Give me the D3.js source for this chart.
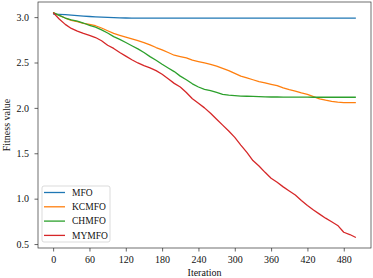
<!DOCTYPE html>
<html>
<head>
<meta charset="utf-8">
<script src="https://cdn.jsdelivr.net/npm/d3@7"></script>
<style>
  body { margin: 0; background: #fff; }
  svg { display: block; font-family: "Liberation Serif", "Times New Roman", serif; }
</style>
</head>
<body>
<div id="chart"></div>
<script>
// iterations sampled every 10 steps
let iterations = d3.range(0, 501, 10);

let seriesNames = ["MFO", "KCMFO", "CHMFO", "MYMFO"];
let seriesColors = ["#1f77b4", "#ff7f0e", "#2ca02c", "#d62728"];

let mfo = [3.033, 3.03, 3.027, 3.022, 3.017, 3.012, 3.007, 3.003, 3.0, 2.997,
  2.994, 2.992, 2.99, 2.989, 2.989, 2.989, 2.989, 2.989, 2.989, 2.989,
  2.989, 2.989, 2.989, 2.989, 2.989, 2.989, 2.989, 2.989, 2.989, 2.989,
  2.989, 2.989, 2.989, 2.989, 2.989, 2.989, 2.989, 2.989, 2.989, 2.989,
  2.989, 2.989, 2.989, 2.989, 2.989, 2.989, 2.989, 2.989, 2.989, 2.989, 2.989];

let kcmfo = [3.05, 3.02, 2.99, 2.965, 2.95, 2.93, 2.92, 2.905, 2.88, 2.85,
  2.82, 2.80, 2.78, 2.76, 2.74, 2.72, 2.695, 2.665, 2.64, 2.61,
  2.58, 2.565, 2.55, 2.525, 2.51, 2.495, 2.48, 2.46, 2.435, 2.41,
  2.38, 2.35, 2.33, 2.31, 2.29, 2.275, 2.26, 2.245, 2.22, 2.20,
  2.185, 2.165, 2.15, 2.125, 2.10, 2.085, 2.072, 2.063, 2.059, 2.058, 2.057];

let chmfo = [3.05, 3.02, 2.99, 2.97, 2.955, 2.935, 2.91, 2.89, 2.86, 2.825,
  2.785, 2.755, 2.72, 2.685, 2.65, 2.61, 2.565, 2.525, 2.48, 2.44,
  2.40, 2.35, 2.31, 2.265, 2.23, 2.205, 2.19, 2.17, 2.15, 2.14,
  2.135, 2.13, 2.128, 2.126, 2.124, 2.122, 2.12, 2.12, 2.119, 2.119,
  2.118, 2.118, 2.118, 2.117, 2.117, 2.117, 2.117, 2.117, 2.117, 2.117, 2.117];

let mymfo = [3.05, 2.98, 2.92, 2.875, 2.845, 2.82, 2.80, 2.775, 2.74, 2.69,
  2.655, 2.61, 2.57, 2.53, 2.495, 2.465, 2.44, 2.41, 2.37, 2.32,
  2.27, 2.23, 2.17, 2.10, 2.05, 2.00, 1.94, 1.875, 1.81, 1.745,
  1.675, 1.59, 1.51, 1.42, 1.36, 1.29, 1.225, 1.18, 1.13, 1.085,
  1.04, 0.98, 0.925, 0.875, 0.83, 0.785, 0.745, 0.705, 0.63, 0.605, 0.572];

let xTicks = [0, 60, 120, 180, 240, 300, 360, 420, 480];
let yTicks = [0.5, 1.0, 1.5, 2.0, 2.5, 3.0];

let w = 373;
let h = 278;
let plotLeft = 38, plotRight = 371, plotTop = 2, plotBottom = 248;

let svg = d3.select("#chart")
  .append("svg")
  .attr("width", w)
  .attr("height", h);

let x = d3.scaleLinear().domain([-25, 525]).range([plotLeft, plotRight]);
let y = d3.scaleLinear().domain([0.4565, 3.1665]).range([plotBottom, plotTop]);

let allSeries = [mfo, kcmfo, chmfo, mymfo];

let line = d3.line()
  .x((d, i) => x(iterations[i]))
  .y(d => y(d));

svg.selectAll(".series")
  .data(allSeries)
  .enter()
  .append("path")
  .attr("class", "series")
  .attr("d", d => line(d))
  .attr("fill", "none")
  .attr("stroke", (d, i) => seriesColors[i])
  .attr("stroke-width", 1.3)
  .attr("stroke-linejoin", "round");

// axes
let xAxis = d3.axisBottom(x).tickValues(xTicks).tickSize(3.5).tickPadding(4.7);
let yAxis = d3.axisLeft(y).tickValues(yTicks).tickSize(3.5).tickPadding(5.5).tickFormat(d3.format(".1f"));

let gx = svg.append("g")
  .attr("transform", `translate(0,${plotBottom})`)
  .call(xAxis);
let gy = svg.append("g")
  .attr("transform", `translate(${plotLeft},0)`)
  .call(yAxis);

[gx, gy].forEach(g => {
  g.select(".domain").remove();
  g.selectAll("line").attr("stroke", "#222").attr("stroke-width", 0.7);
  g.selectAll("text")
    .attr("fill", "#111")
    .style("font-size", "10px")
    .style("font-family", "Liberation Serif, serif");
});

// frame
svg.append("rect")
  .attr("x", plotLeft)
  .attr("y", plotTop)
  .attr("width", plotRight - plotLeft)
  .attr("height", plotBottom - plotTop)
  .attr("fill", "none")
  .attr("stroke", "#333")
  .attr("stroke-width", 0.7);

// axis labels
svg.append("text")
  .text("Iteration")
  .attr("x", (plotLeft + plotRight) / 2)
  .attr("y", 276)
  .attr("text-anchor", "middle")
  .style("font-size", "10px")
  .attr("fill", "#111");

svg.append("text")
  .text("Fitness value")
  .attr("transform", `translate(9.5,${(plotTop + plotBottom) / 2}) rotate(-90)`)
  .attr("text-anchor", "middle")
  .style("font-size", "10px")
  .attr("fill", "#111");

// legend
let legend = svg.append("g").attr("transform", "translate(42,186)");
legend.append("rect")
  .attr("width", 68)
  .attr("height", 56)
  .attr("rx", 2)
  .attr("fill", "#fff")
  .attr("fill-opacity", 0.8)
  .attr("stroke", "#ccc")
  .attr("stroke-width", 0.7);

seriesNames.forEach((name, i) => {
  let ly = 6.5 + i * 14.3;
  legend.append("line")
    .attr("x1", 2)
    .attr("x2", 23)
    .attr("y1", ly)
    .attr("y2", ly)
    .attr("stroke", seriesColors[i])
    .attr("stroke-width", 1.3);
  legend.append("text")
    .text(name)
    .attr("x", 30)
    .attr("y", ly + 3.3)
    .style("font-size", "9.5px")
    .attr("fill", "#111");
});
</script>
</body>
</html>
